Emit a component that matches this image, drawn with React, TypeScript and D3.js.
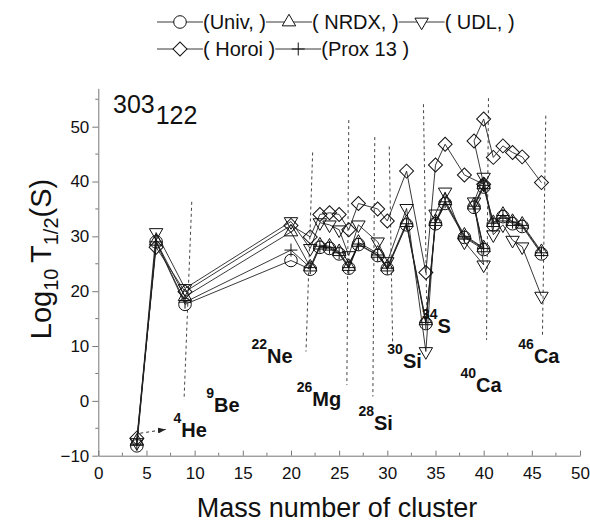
import React, { useRef, useEffect } from "react";
import * as d3 from "d3";

// cluster mass numbers, in the order the points are joined
const massNumbers = [4, 6, 9, 20, 22, 23, 24, 25, 26, 27, 29, 30, 32, 34, 35, 36, 38, 40, 39, 40, 41, 42, 43, 44, 46];

// log10 T1/2 (s) for each model
const univValues = [-8.2, 29.0, 17.6, 25.6, 24.0, 28.0, 27.8, 26.8, 24.2, 28.5, 26.5, 24.1, 32.1, 14.1, 32.3, 36.0, 29.8, 27.6, 35.3, 39.0, 32.1, 33.6, 32.3, 31.8, 26.8];
const nrdxValues = [-7.4, 29.1, 19.0, 30.8, 24.4, 28.4, 28.2, 27.2, 24.5, 28.9, 26.9, 24.4, 32.5, 14.6, 32.7, 36.5, 30.2, 27.9, 35.7, 39.4, 32.5, 34.0, 32.7, 32.2, 27.2];
const udlValues = [-7.6, 30.7, 20.5, 32.7, 27.8, 32.5, 32.1, 31.2, 26.5, 32.1, 29.0, 25.4, 35.1, 9.0, 34.1, 38.1, 29.0, 24.8, 36.3, 40.8, 30.3, 32.1, 29.3, 28.1, 19.1];
const horoiValues = [-6.8, 28.0, 19.9, 32.0, 29.9, 34.0, 34.3, 34.0, 31.2, 36.0, 35.0, 32.8, 41.9, 23.4, 43.0, 46.8, 41.2, 39.5, 47.4, 51.4, 44.4, 46.5, 45.3, 44.5, 39.8];
const proxValues = [-7.9, 29.0, 18.0, 27.5, 24.3, 28.2, 28.0, 27.0, 24.3, 28.6, 26.6, 24.2, 32.3, 14.3, 32.5, 36.3, 30.0, 27.8, 35.5, 39.3, 32.4, 33.8, 32.6, 32.0, 27.0];

const legendLabels = ["(Univ, )", "( NRDX, )", "( UDL, )", "( Horoi )", "(Prox 13 )"];
const markerKinds = ["circle", "triUp", "triDown", "diamond", "plus"];

const xTicks = [0, 5, 10, 15, 20, 25, 30, 35, 40, 45, 50];
const yTicks = [-10, 0, 10, 20, 30, 40, 50];

// magic cluster annotations (text start, in data units)
const clusterLabels = [
  { sup: "4", name: "He", mass: 7.8, value: -6.6 },
  { sup: "9", name: "Be", mass: 11.2, value: -2.0 },
  { sup: "22", name: "Ne", mass: 15.9, value: 6.9 },
  { sup: "26", name: "Mg", mass: 20.6, value: -0.9 },
  { sup: "28", name: "Si", mass: 27.0, value: -5.3 },
  { sup: "30", name: "Si", mass: 30.0, value: 6.0 },
  { sup: "34", name: "S", mass: 33.6, value: 12.4 },
  { sup: "40", name: "Ca", mass: 37.6, value: 1.6 },
  { sup: "46", name: "Ca", mass: 43.6, value: 6.9 },
];
const guideLines = [
  { m1: 9.7, v1: 36.3, m2: 8.9, v2: 0.2 },
  { m1: 22.25, v1: 45.3, m2: 21.56, v2: 9.0 },
  { m1: 26.0, v1: 51.2, m2: 25.8, v2: 2.9 },
  { m1: 28.7, v1: 48.1, m2: 28.5, v2: 0.8 },
  { m1: 30.2, v1: 46.4, m2: 30.55, v2: 10.8 },
  { m1: 33.75, v1: 54.1, m2: 34.1, v2: 16.0 },
  { m1: 40.5, v1: 55.2, m2: 40.3, v2: 11.1 },
  { m1: 46.45, v1: 52.0, m2: 46.1, v2: 11.7 },
];

const font = "'Liberation Sans', Arial, sans-serif";
const axisColor = "#777";

const markerPath = (kind: string) => {
  if (kind === "circle") return d3.symbol(d3.symbolCircle, Math.PI * 6.3 * 6.3)()!;
  if (kind === "triUp" || kind === "triDown") return d3.symbol(d3.symbolTriangle, 78)()!;
  if (kind === "diamond") return d3.symbol(d3.symbolSquare, 98)()!;
  return "M-6.5,0H6.5M0,-6.5V6.5";
};
const markerRotate = (kind: string) => (kind === "triDown" ? 180 : kind === "diamond" ? 45 : 0);

const App: React.FC = () => {
  const svgRef = useRef<SVGSVGElement>(null);

  useEffect(() => {
    const svg = d3.select(svgRef.current);
    svg.selectAll("*").remove();

    const x = d3.scaleLinear().domain([0, 50]).range([98.3, 580]);
    const y = d3.scaleLinear().domain([-10, 57]).range([455.7, 88.3]);

    const series = [univValues, nrdxValues, udlValues, horoiValues, proxValues];

    // arrow head for the He pointer
    svg.append("defs").append("marker")
      .attr("id", "arrowHead")
      .attr("viewBox", "0 0 8 6")
      .attr("refX", 8).attr("refY", 3)
      .attr("markerWidth", 8).attr("markerHeight", 6)
      .attr("markerUnits", "userSpaceOnUse")
      .attr("orient", "auto")
      .append("path").attr("d", "M0,0L8,3L0,6Z").attr("fill", "#222");

    // x axis, ticks pointing in
    const xAxis = svg.append("g")
      .attr("transform", `translate(0,${y(-10)})`)
      .call(d3.axisBottom(x).tickValues(xTicks).tickSizeInner(-5).tickSizeOuter(0).tickPadding(11));
    xAxis.select(".domain").attr("stroke", axisColor);
    xAxis.selectAll(".tick line").attr("stroke", axisColor);
    xAxis.selectAll("text").attr("font-size", 17).attr("font-family", font).attr("fill", "#111");
    xAxis.selectAll(".minor")
      .data(d3.range(2.5, 50, 5))
      .enter().append("line")
      .attr("x1", (d) => x(d)).attr("x2", (d) => x(d))
      .attr("y1", 0).attr("y2", -3)
      .attr("stroke", axisColor);

    // y axis, ticks pointing out
    const yAxis = svg.append("g")
      .attr("transform", `translate(${x(0)},0)`)
      .call(d3.axisLeft(y).tickValues(yTicks).tickSizeInner(6).tickSizeOuter(0).tickPadding(3));
    yAxis.select(".domain").attr("stroke", axisColor);
    yAxis.selectAll(".tick line").attr("stroke", axisColor);
    yAxis.selectAll("text").attr("font-size", 17).attr("font-family", font).attr("fill", "#111");
    yAxis.selectAll(".minor")
      .data(d3.range(-5, 57, 10))
      .enter().append("line")
      .attr("x1", 0).attr("x2", -3)
      .attr("y1", (d) => y(d)).attr("y2", (d) => y(d))
      .attr("stroke", axisColor);

    // dashed guides to the magic clusters
    svg.append("g").selectAll("line")
      .data(guideLines)
      .enter().append("line")
      .attr("x1", (d) => x(d.m1)).attr("y1", (d) => y(d.v1))
      .attr("x2", (d) => x(d.m2)).attr("y2", (d) => y(d.v2))
      .attr("stroke", "#444").attr("stroke-width", 1).attr("stroke-dasharray", "3,3");

    // pointer to 4He
    svg.append("line")
      .attr("x1", x(4.35)).attr("y1", y(-5.9))
      .attr("x2", x(7.0)).attr("y2", y(-5.2))
      .attr("stroke", "#333").attr("stroke-dasharray", "3,3")
      .attr("marker-end", "url(#arrowHead)");

    // series lines
    const line = d3.line<number>()
      .x((_, i) => x(massNumbers[i]))
      .y((v) => y(v));
    series.forEach((vals) => {
      svg.append("path")
        .attr("d", line(vals))
        .attr("fill", "none")
        .attr("stroke", "#222")
        .attr("stroke-width", 0.9);
    });

    // series markers
    series.forEach((vals, s) => {
      const kind = markerKinds[s];
      svg.append("g").selectAll("path")
        .data(vals)
        .enter().append("path")
        .attr("d", markerPath(kind))
        .attr("transform", (v, i) => `translate(${x(massNumbers[i])},${y(v)}) rotate(${markerRotate(kind)})`)
        .attr("fill", "none")
        .attr("stroke", "#111")
        .attr("stroke-width", 1);
    });

    // cluster labels
    const lbl = svg.append("g").selectAll("text")
      .data(clusterLabels)
      .enter().append("text")
      .attr("x", (d) => x(d.mass))
      .attr("y", (d) => y(d.value))
      .attr("font-family", font)
      .attr("font-weight", "bold")
      .attr("fill", "#111");
    lbl.append("tspan").attr("font-size", 14).attr("dy", -14).text((d) => d.sup);
    lbl.append("tspan").attr("font-size", 20).attr("dy", 14).text((d) => d.name);

    // parent nucleus
    const parent = svg.append("text")
      .attr("x", 113).attr("y", 113)
      .attr("font-family", font).attr("font-size", 25).attr("fill", "#111");
    parent.append("tspan").text("303");
    parent.append("tspan").attr("dy", 11).attr("dx", 1).text("122");

    // axis titles
    svg.append("text")
      .attr("x", 337).attr("y", 517)
      .attr("text-anchor", "middle")
      .attr("font-family", font).attr("font-size", 27).attr("fill", "#111")
      .text("Mass number of cluster");

    const yTitle = svg.append("text")
      .attr("transform", "translate(51,259) rotate(-90)")
      .attr("text-anchor", "middle")
      .attr("font-family", font).attr("font-size", 29).attr("fill", "#111");
    yTitle.append("tspan").text("Log");
    yTitle.append("tspan").attr("font-size", 20).attr("dy", 7).text("10 ");
    yTitle.append("tspan").attr("dy", -7).text("T");
    yTitle.append("tspan").attr("font-size", 20).attr("dy", 7).text("1/2");
    yTitle.append("tspan").attr("dy", -7).text("(S)");

    // legend: two rows
    const rows = [[0, 1, 2], [3, 4]];
    const rowBase = [29, 56];
    const segW = 46;
    rows.forEach((row, r) => {
      let cx = 157;
      row.forEach((s) => {
        const g = svg.append("g");
        const my = rowBase[r] - 7;
        g.append("line")
          .attr("x1", cx).attr("x2", cx + segW)
          .attr("y1", my).attr("y2", my)
          .attr("stroke", "#222").attr("stroke-width", 0.9);
        g.append("path")
          .attr("d", markerPath(markerKinds[s]))
          .attr("transform", `translate(${cx + segW / 2},${my}) rotate(${markerRotate(markerKinds[s])})`)
          .attr("fill", "#fff").attr("stroke", "#111");
        const t = g.append("text")
          .attr("x", cx + segW).attr("y", rowBase[r])
          .attr("font-family", font).attr("font-size", 20).attr("fill", "#111")
          .text(legendLabels[s]);
        cx += segW + (t.node() as SVGTextElement).getComputedTextLength();
      });
    });
  }, []);

  return (
    <svg
      ref={svgRef}
      width={590}
      height={522}
      style={{ position: "absolute", left: 0, top: 0, background: "#fff" }}
    ></svg>
  );
};

export default App;
